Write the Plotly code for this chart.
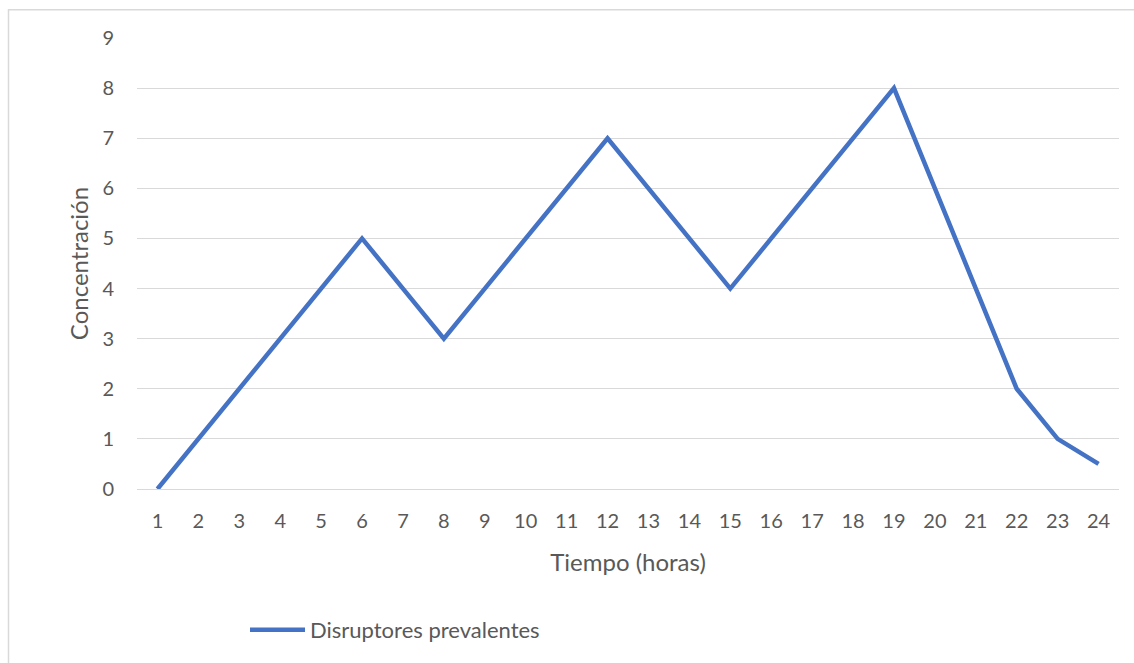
import plotly.graph_objects as go

hours = [str(h) for h in range(1, 25)]
concentracion = [0, 1, 2, 3, 4, 5, 4, 3, 4, 5, 6, 7, 6, 5, 4, 5, 6, 7, 8, 6, 4, 2, 1, 0.5]
series_name = "Disruptores prevalentes"
x_title = "Tiempo (horas)"
y_title = "Concentración"

FONT = "Lato"
TXT = "#595959"

L, R, T, B = 137, 15, 38, 171
W, H = 1134, 663
pw = W - L - R
ph = H - T - B

fig = go.Figure()
fig.add_trace(go.Scatter(
    x=hours, y=concentracion, mode="lines", name=series_name,
    line=dict(color="#4472C4", width=4.5),
))

fig.update_layout(
    width=W, height=H,
    margin=dict(l=L, r=R, t=T, b=B, pad=0),
    paper_bgcolor="white", plot_bgcolor="white",
    font=dict(family=FONT, color=TXT, size=20),
    showlegend=True,
    legend=dict(
        orientation="h", x=(245 - L) / pw, xanchor="left",
        y=-(634 - (H - B)) / ph, yanchor="middle",
        font=dict(family=FONT, color=TXT, size=22),
        bgcolor="rgba(0,0,0,0)", itemwidth=55,
    ),
    xaxis=dict(
        type="category", range=[-0.5, 23.5],
        showgrid=False, showline=False, zeroline=False,
        ticks="", tickfont=dict(size=20, color=TXT),
        ticklabelstandoff=18,
        title=dict(text=x_title, font=dict(size=24, color=TXT), standoff=23),
    ),
    yaxis=dict(
        range=[0, 9], dtick=1, showgrid=True, gridcolor="#d9d9d9", gridwidth=1,
        zeroline=True, zerolinecolor="#d9d9d9", zerolinewidth=1,
        showline=False, ticks="", tickfont=dict(size=20, color=TXT),
        ticklabelstandoff=22,
        title=dict(text=y_title, font=dict(size=24, color=TXT), standoff=6),
    ),
    shapes=[dict(
        type="rect", xref="paper", yref="paper",
        x0=(8.5 - L) / pw, x1=(1140 - L) / pw,
        y0=-(700 - (H - B)) / ph, y1=((H - B) - 9.5) / ph,
        line=dict(color="#d9d9d9", width=1.5), fillcolor="rgba(0,0,0,0)",
        layer="below",
    )],
)

fig.write_html("out.html")
